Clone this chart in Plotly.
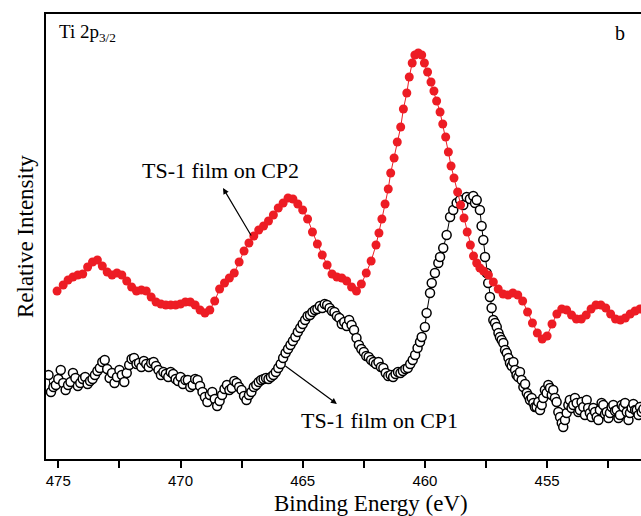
import plotly.graph_objects as go

# ---- data (binding energy in eV, intensity in arbitrary units) ----
red_energy = [475.05, 474.8, 474.6, 474.4, 474.2, 474.0, 473.8, 473.6, 473.4, 473.2,
              473.0, 472.8, 472.6, 472.4, 472.2, 472.0, 471.8, 471.6, 471.4, 471.2,
              471.0, 470.8, 470.6, 470.4, 470.2, 470.0, 469.8, 469.6, 469.4, 469.2,
              469.0, 468.8, 468.6, 468.4, 468.2, 468.0, 467.8, 467.6, 467.4, 467.2,
              467.0, 466.8, 466.6, 466.4, 466.2, 466.0, 465.8, 465.6, 465.4, 465.2,
              465.0, 464.8, 464.6, 464.4, 464.2, 464.0, 463.8, 463.6, 463.4, 463.2,
              463.0, 462.8, 462.6, 462.4, 462.2, 462.0, 461.88, 461.76, 461.63, 461.50,
              461.40, 461.26, 461.13, 460.99, 460.88, 460.74, 460.64, 460.52, 460.41, 460.27,
              460.13, 460.02, 459.89, 459.75, 459.63, 459.52, 459.38, 459.27, 459.15, 459.04,
              458.93, 458.81, 458.66, 458.54, 458.40, 458.27, 458.14, 458.01, 457.88, 457.75,
              457.6, 457.4, 457.2, 457.0, 456.8, 456.6, 456.4, 456.2, 456.0, 455.8,
              455.6, 455.4, 455.2, 455.0, 454.8, 454.6, 454.4, 454.2, 454.0, 453.8,
              453.6, 453.4, 453.2, 453.0, 452.8, 452.6, 452.4, 452.2, 452.0, 451.8,
              451.6, 451.4, 451.2, 451.0]
red_intensity = [168, 174, 179, 182, 184, 185, 192, 197, 199, 193,
                 187, 184, 186, 184, 178, 172, 168, 169, 168, 162,
                 157, 155, 154, 154, 154, 155, 157, 157, 154, 149,
                 146, 149, 158, 170, 176, 181, 186, 197, 208, 216,
                 223, 229, 233, 238, 244, 251, 256, 261, 260, 255,
                 249, 240, 227, 215, 204, 194, 185, 182, 181, 178,
                 172, 168, 175, 186, 198, 214, 226, 240, 255, 270,
                 286, 301, 317, 332, 350, 366, 382, 396, 404, 406,
                 404, 396, 387, 377, 368, 358, 347, 335, 322, 307,
                 293, 281, 267, 254, 241, 227, 214, 203, 196, 191,
                 188, 184, 177, 170, 165, 164, 166, 164, 158, 147,
                 136, 126, 120, 123, 135, 145, 150, 149, 144, 140,
                 140, 144, 150, 154, 154, 151, 145, 140, 139, 141,
                 145, 148, 150, 152]

black_energy = [475.4, 475.3, 475.2, 475.1, 475.0, 474.9, 474.8, 474.7, 474.6, 474.5,
                474.4, 474.3, 474.2, 474.1, 474.0, 473.9, 473.8, 473.7, 473.6, 473.5,
                473.4, 473.3, 473.2, 473.1, 473.0, 472.9, 472.8, 472.7, 472.6, 472.5,
                472.4, 472.3, 472.2, 472.1, 472.0, 471.9, 471.8, 471.7, 471.6, 471.5,
                471.4, 471.3, 471.2, 471.1, 471.0, 470.9, 470.8, 470.7, 470.6, 470.5,
                470.4, 470.3, 470.2, 470.1, 470.0, 469.9, 469.8, 469.7, 469.6, 469.5,
                469.4, 469.3, 469.2, 469.1, 469.0, 468.9, 468.8, 468.7, 468.6, 468.5,
                468.4, 468.3, 468.2, 468.1, 468.0, 467.9, 467.8, 467.7, 467.6, 467.5,
                467.4, 467.3, 467.2, 467.1, 467.0, 466.9, 466.8, 466.7, 466.6, 466.5,
                466.4, 466.3, 466.2, 466.1, 466.0, 465.9, 465.8, 465.7, 465.6, 465.5,
                465.4, 465.3, 465.2, 465.1, 465.0, 464.9, 464.8, 464.7, 464.6, 464.5,
                464.4, 464.3, 464.2, 464.1, 464.0, 463.9, 463.8, 463.7, 463.6, 463.5,
                463.4, 463.3, 463.2, 463.1, 463.0, 462.9, 462.8, 462.7, 462.6, 462.5,
                462.4, 462.3, 462.2, 462.1, 462.0, 461.9, 461.8, 461.7, 461.6, 461.5,
                461.4, 461.3, 461.2, 461.1, 461.0, 460.9, 460.8, 460.7, 460.6, 460.5,
                460.4, 460.3, 460.2,
                460.13, 460.00, 459.93, 459.79, 459.72, 459.59, 459.45, 459.38, 459.25, 459.11,
                458.97, 458.84, 458.70, 458.56, 458.43, 458.29, 458.16, 458.02, 457.95, 457.88,
                457.75, 457.68, 457.61, 457.54, 457.47, 457.41, 457.34, 457.27, 457.20, 457.13,
                457.06, 456.99, 456.93, 456.86, 456.79, 456.72, 456.65, 456.58, 456.52, 456.45,
                456.38, 456.31, 456.25, 456.18, 456.11, 456.04, 455.97, 455.90, 455.83, 455.76,
                455.70, 455.63, 455.56, 455.50, 455.43, 455.36, 455.29, 455.22, 455.16, 455.09,
                455.02, 454.95, 454.88, 454.81, 454.75, 454.68, 454.61, 454.54, 454.47, 454.40,
                454.34, 454.27, 454.20, 454.13, 454.07, 454.00, 453.93, 453.86, 453.79, 453.72,
                453.66, 453.59, 453.52, 453.45, 453.38, 453.32, 453.25, 453.18, 453.11, 453.04,
                452.97, 452.90, 452.84, 452.77, 452.70, 452.63, 452.56, 452.49, 452.43, 452.36,
                452.29, 452.22, 452.15, 452.08, 452.02, 451.95, 451.88, 451.81, 451.74, 451.67,
                451.61, 451.54, 451.47, 451.40, 451.33, 451.26, 451.20, 451.13, 451.06]
black_intensity = [84, 67, 72, 74, 80, 89, 76, 69, 74, 77,
                   86, 81, 73, 76, 80, 82, 75, 78, 80, 84,
                   88, 91, 97, 99, 90, 81, 86, 76, 82, 89,
                   84, 77, 86, 94, 100, 101, 95, 96, 92, 98,
                   95, 92, 96, 97, 93, 89, 84, 87, 85, 82,
                   87, 85, 80, 78, 82, 75, 79, 79, 72, 74,
                   80, 79, 73, 67, 62, 57, 64, 67, 60, 53,
                   58, 64, 70, 74, 69, 71, 78, 76, 72, 69,
                   63, 59, 64, 67, 72, 74, 77, 79, 80, 81,
                   80, 82, 84, 87, 91, 95, 101, 106, 110, 114,
                   118, 122, 127, 131, 135, 139, 143, 144, 147, 149,
                   150, 153, 151, 155, 154, 151, 148, 147, 143, 141,
                   135, 137, 133, 139, 134, 129, 121, 114, 110, 107,
                   103, 102, 99, 97, 95, 97, 92, 91, 86, 83,
                   84, 82, 85, 87, 86, 88, 90, 91, 95, 99,
                   104, 111, 117,
                   122, 132, 146, 166, 176, 186, 196, 202, 211, 224,
                   242, 249, 256, 259, 254, 262, 260, 263, 256, 259,
                   249, 233, 219, 202, 186, 176, 162, 151, 139, 136,
                   132, 126, 122, 119, 116, 109, 106, 101, 96, 93,
                   97, 89, 84, 82, 87, 79, 72, 75, 66, 63,
                   59, 61, 56, 52, 52, 57, 49, 54, 61, 69,
                   66, 74, 71, 64, 69, 61, 57, 47, 42, 36,
                   32, 39, 46, 54, 59, 51, 54, 61, 56, 47,
                   49, 57, 52, 44, 59, 51, 46, 42, 51, 47,
                   42, 39, 49, 56, 54, 45, 47, 41, 46, 52,
                   54, 48, 49, 41, 44, 54, 52, 56, 47, 39,
                   46, 51, 55, 49, 49, 44, 52, 47, 50]

x_tick_values = [475, 470, 465, 460, 455]
x_tick_labels = ["475", "470", "465", "460", "455"]

RED = "#ED1C24"
SERIF = "Liberation Serif"
SANS = "Liberation Sans"

fig = go.Figure()

fig.add_trace(go.Scatter(
    x=black_energy, y=black_intensity, mode="lines+markers",
    name="TS-1 film on CP1",
    line=dict(color="black", width=1),
    marker=dict(symbol="circle", size=9, color="white",
                line=dict(color="black", width=1.5)),
    showlegend=False,
))
fig.add_trace(go.Scatter(
    x=red_energy, y=red_intensity, mode="lines+markers",
    name="TS-1 film on CP2",
    line=dict(color=RED, width=1),
    marker=dict(symbol="circle", size=9, color=RED, line=dict(width=0)),
    showlegend=False,
))

fig.update_layout(
    width=641, height=516,
    margin=dict(l=46, r=0, t=14, b=57),
    paper_bgcolor="white", plot_bgcolor="white",
    showlegend=False,
    font=dict(family=SERIF, color="black"),
    xaxis=dict(
        range=[475.503, 451.158], autorange=False,
        showgrid=False, zeroline=False,
        showline=True, linecolor="black", linewidth=2, mirror=True,
        ticks="outside", ticklen=7, tickwidth=2, tickcolor="black",
        tickvals=x_tick_values, ticktext=x_tick_labels,
        tickfont=dict(family=SANS, size=15, color="black"),
        minor=dict(dtick=2.5, tick0=475, ticks="outside", ticklen=7,
                   tickwidth=2, tickcolor="black", showgrid=False),
    ),
    yaxis=dict(
        range=[0, 445], autorange=False,
        showgrid=False, zeroline=False,
        showline=True, linecolor="black", linewidth=2, mirror=False,
        ticks="", showticklabels=False,
    ),
    annotations=[
        dict(text="Binding Energy (eV)", xref="paper", yref="paper",
             x=0.547, y=-0.099, xanchor="center", yanchor="middle",
             showarrow=False, font=dict(family=SERIF, size=23, color="black")),
        dict(text="Relative Intensity", xref="paper", yref="paper",
             x=-0.0353, y=0.501, xanchor="center", yanchor="middle",
             textangle=-90,
             showarrow=False, font=dict(family=SERIF, size=23, color="black")),
        dict(text="Ti 2p<sub>3/2</sub>", xref="paper", yref="paper",
             x=0.0185, y=0.957, xanchor="left", yanchor="middle",
             showarrow=False, font=dict(family=SERIF, size=19, color="black")),
        dict(text="b", xref="paper", yref="paper",
             x=0.9645, y=0.957, xanchor="center", yanchor="middle",
             showarrow=False, font=dict(family=SERIF, size=20, color="black")),
        dict(text="TS-1 film on CP2", xref="paper", yref="paper",
             x=0.294, y=0.649, xanchor="center", yanchor="middle",
             showarrow=False, font=dict(family=SERIF, size=22, color="black")),
        dict(text="TS-1 film on CP1", xref="paper", yref="paper",
             x=0.5597, y=0.0876, xanchor="center", yanchor="middle",
             showarrow=False, font=dict(family=SERIF, size=22, color="black")),
        dict(text="", xref="x", yref="y", x=468.26, y=271,
             showarrow=True, ax=29, ay=49, axref="pixel", ayref="pixel",
             arrowhead=2, arrowsize=1, arrowwidth=1.2, arrowcolor="black",
             standoff=0, startstandoff=0),
        dict(text="", xref="x", yref="y", x=463.60, y=55,
             showarrow=True, ax=-53, ay=-39, axref="pixel", ayref="pixel",
             arrowhead=2, arrowsize=1, arrowwidth=1.2, arrowcolor="black",
             standoff=0, startstandoff=0),
    ],
)

fig.write_html("out.html")
